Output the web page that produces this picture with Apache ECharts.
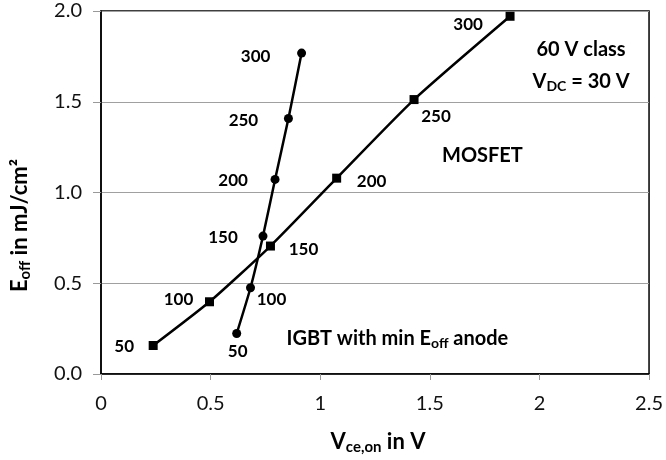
<!DOCTYPE html>
<html>
<head>
<meta charset="utf-8">
<script src="https://cdn.jsdelivr.net/npm/echarts@6/dist/echarts.min.js"></script>
<style>
  html, body { margin: 0; padding: 0; background: #fff; }
  #main { width: 666px; height: 460px; }
</style>
</head>
<body>
<div id="main"></div>
<script>
// current density of each point (labels on the points)
const currents = [50, 100, 150, 200, 250, 300];
// IGBT with min Eoff anode
const igbtVce = [0.619, 0.682, 0.739, 0.794, 0.855, 0.915];
const igbtEoff = [0.223, 0.475, 0.760, 1.072, 1.408, 1.768];
// MOSFET
const mosVce = [0.238, 0.495, 0.773, 1.075, 1.428, 1.866];
const mosEoff = [0.157, 0.398, 0.705, 1.079, 1.512, 1.971];
// tick labels
const xTicks = ["0", "0.5", "1", "1.5", "2", "2.5"];
const yTicks = ["0.0", "0.5", "1.0", "1.5", "2.0"];

// label offsets from the point centre (px)
const igbtLabelOffset = [[1, 18], [21, 12], [-40, 1], [-42, 1], [-45, 2], [-46, 3]];
const mosLabelOffset = [[-29, 1], [-31, -2], [33, 3], [35, 3], [22, 17], [-42, 8]];

const FONT = "Lato, 'Open Sans', sans-serif";

const chart = echarts.init(document.getElementById("main"));

const pointLabel = (offsets) => (v, i) => ({
  value: v,
  label: {
    show: true,
    position: "inside",
    offset: offsets[i],
    formatter: String(currents[i]),
    color: "#000",
    fontFamily: FONT,
    fontWeight: "bold",
    fontSize: 17,
  },
});

const igbtData = igbtVce.map((x, i) => [x, igbtEoff[i]]).map(pointLabel(igbtLabelOffset));
const mosData = mosVce.map((x, i) => [x, mosEoff[i]]).map(pointLabel(mosLabelOffset));

const richText = {
  b: { fontFamily: FONT, fontWeight: "bold", fontSize: 20, color: "#000" },
  s: { fontFamily: FONT, fontWeight: "bold", fontSize: 14, color: "#000", padding: [11, 0, 0, 0] },
};
const nameRich = {
  b: { ...richText.b, fontSize: 22 },
  s: { ...richText.s, fontSize: 15, padding: [12, 0, 0, 0] },
};

const options = {
  animation: false,
  grid: {
    left: 101,
    right: 16,
    top: 11,
    bottom: 84,
    show: true,
    borderColor: "#000",
    borderWidth: 1.5,
  },
  xAxis: {
    type: "value",
    min: 0,
    max: 2.5,
    interval: 0.5,
    axisLine: { show: true, onZero: false, lineStyle: { color: "#000", width: 1.5 } },
    axisTick: { show: true, length: 6, lineStyle: { color: "#999" } },
    splitLine: { show: false },
    axisLabel: {
      margin: 20,
      color: "#111",
      fontFamily: FONT,
      fontSize: 20,
      formatter: (v) => xTicks[Math.round(v / 0.5)],
    },
    name: "{b|V}{s|ce,on}{b| in V}",
    nameLocation: "middle",
    nameGap: 54,
    nameTextStyle: { rich: nameRich, padding: [0, 0, 0, 6] },
  },
  yAxis: {
    type: "value",
    min: 0,
    max: 2,
    interval: 0.5,
    axisLine: { show: true, lineStyle: { color: "#000", width: 1.5 } },
    axisTick: { show: true, length: 8, lineStyle: { color: "#999" } },
    splitLine: { show: true, lineStyle: { color: "#a0a0a0", width: 1 } },
    axisLabel: {
      margin: 19,
      color: "#111",
      fontFamily: FONT,
      fontSize: 20,
      formatter: (v) => yTicks[Math.round(v / 0.5)],
    },
    name: "{b|E}{s|off}{b| in mJ/cm²}",
    nameLocation: "middle",
    nameGap: 68,
    nameTextStyle: { rich: nameRich, padding: [0, 66, 0, 0] },
  },
  series: [
    {
      name: "IGBT",
      type: "line",
      data: igbtData,
      smooth: 0.2,
      symbol: "circle",
      symbolSize: 9,
      lineStyle: { color: "#000", width: 2.5 },
      itemStyle: { color: "#000" },
      z: 3,
    },
    {
      name: "MOSFET",
      type: "line",
      data: mosData,
      smooth: 0.2,
      symbol: "rect",
      symbolSize: 9,
      lineStyle: { color: "#000", width: 2.5 },
      itemStyle: { color: "#000" },
      z: 3,
    },
    {
      // text annotations placed in data coordinates
      name: "notes",
      type: "scatter",
      symbolSize: 0,
      silent: true,
      data: [
        { value: [2.19, 1.79], label: { formatter: "{b|60 V class}" } },
        { value: [2.19, 1.612], label: { formatter: "{b|V}{s|DC}{b| = 30 V}" } },
        { value: [1.74, 1.202], label: { formatter: "{b|MOSFET}" } },
        { value: [1.352, 0.197], label: { formatter: "{b|IGBT with min E}{s|off}{b| anode}" } },
      ],
      label: { show: true, position: "inside", color: "#000", opacity: 1, rich: richText },
    },
  ],
};

chart.setOption(options);
</script>
</body>
</html>
